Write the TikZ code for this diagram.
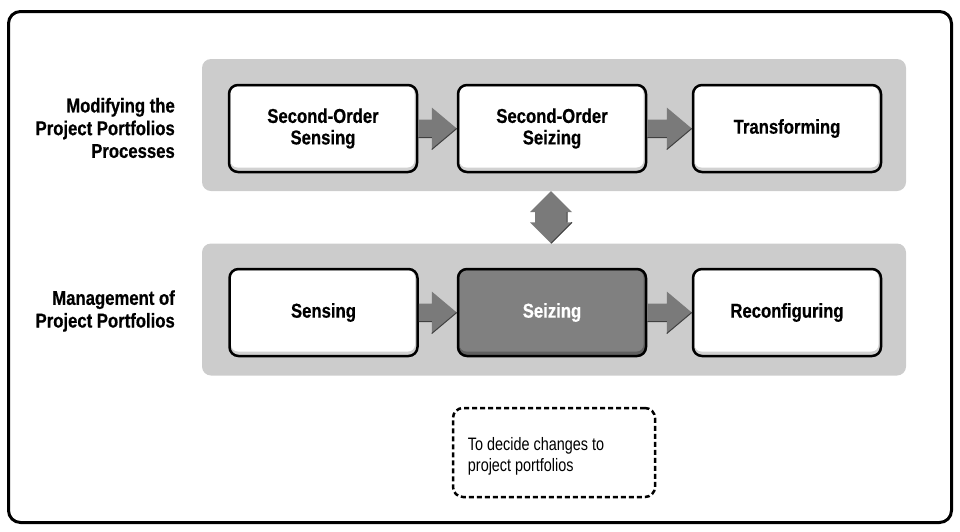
\documentclass[tikz,border=0pt]{standalone}
\usepackage{fontspec}
\setmainfont{Liberation Sans}
\newfontfamily\condB{Liberation Sans}[FakeStretch=0.835,FakeBold=0.6]
\newfontfamily\condR{Liberation Sans}[FakeStretch=0.8]
\usetikzlibrary{calc}
\definecolor{panelgray}{RGB}{204,204,204}
\definecolor{arrgray}{RGB}{122,122,122}
\definecolor{darkbox}{RGB}{128,128,128}
\newcommand\harrow[2]{%
  \fill[arrfill] ($(#1.east)+(0,-9)$) -- ($(#2.west)+(-25,-9)$) -- ($(#2.west)+(-25,-21)$) -- (#2.west) -- ($(#2.west)+(-25,21)$) -- ($(#2.west)+(-25,9)$) -- ($(#1.east)+(0,9)$) -- cycle;
  \draw[arredge] ($(#1.east)+(0,9)$) -- ($(#2.west)+(-25,9)$) ($(#2.west)+(-25,21)$) -- (#2.west);
}
\tikzset{
  panel/.style={fill=panelgray, rounded corners=9, minimum width=704, minimum height=132, inner sep=0},
  boxbase/.style={draw=black, line width=2.5, rounded corners=9, minimum width=188, minimum height=87,
    align=center, font=\condB\bfseries\fontsize{20}{21.5}\selectfont},
  stepbox/.style={boxbase, fill=gray!35,
    path picture={\fill[white, rounded corners=7] ($(path picture bounding box.north west)+(1.5,1.5)$) rectangle ($(path picture bounding box.south east)+(-2.5,-4.5)$);}},
  darkstepbox/.style={boxbase, fill=gray!75!black, text=white,
    path picture={\fill[darkbox, rounded corners=7] ($(path picture bounding box.north west)+(1.5,1.5)$) rectangle ($(path picture bounding box.south east)+(-2.5,-4.5)$);}},
  lab/.style={align=right, anchor=east, inner sep=0, font=\condB\bfseries\fontsize{20}{22.7}\selectfont},
  note/.style={draw=black, line width=2.5, dash pattern=on 5pt off 3pt, rounded corners=10, minimum width=202, minimum height=89},
  notetext/.style={align=left, anchor=west, inner sep=0, font=\condR\fontsize{18}{20.5}\selectfont},
  arrfill/.style={fill=arrgray},
  arredge/.style={draw=black!75, line width=1},
}
\begin{document}
\begin{tikzpicture}[x=1pt,y=-1pt]
\useasboundingbox (0,0) rectangle (960,531);
\draw[line width=3, rounded corners=12] (8.5,11.5) rectangle (951.5,522.5);
% panels
\node[panel] (topP) at (554,125) {};
\node[panel] (botP) at (554,309.5) {};
% labels
\node[lab] (l1) at (175,128) {Modifying the\\Project Portfolios\\Processes};
\node[lab] (l2) at (175,311) {Management of\\Project Portfolios};
% top boxes
\node[stepbox] (s1) at (323,128.5) {Second-Order\\Sensing};
\node[stepbox] (s2) at (552,128.5) {Second-Order\\Seizing};
\node[stepbox] (s3) at (787,128.5) {Transforming};
% bottom boxes
\node[stepbox] (b1) at (323.5,312.5) {Sensing};
\node[darkstepbox] (b2) at (552,312.5) {Seizing};
\node[stepbox] (b3) at (787,312.5) {Reconfiguring};
% horizontal arrows
\harrow{s1}{s2}
\harrow{s2}{s3}
\harrow{b1}{b2}
\harrow{b2}{b3}
% vertical double arrow
\coordinate (vt) at ($(topP.south -| s2)+(-1,0)$);
\coordinate (vb) at ($(botP.north -| s2)+(-1,0)$);
\fill[arrfill] (vt) -- ($(vt)+(21,21)$) -- ($(vt)+(16,21)$) -- ($(vb)+(16,-21)$) -- ($(vb)+(21,-21)$) -- (vb)
  -- ($(vb)+(-21,-21)$) -- ($(vb)+(-16,-21)$) -- ($(vt)+(-16,21)$) -- ($(vt)+(-21,21)$) -- cycle;
\draw[arredge] ($(vb)+(21,-21)$) -- (vb) ($(vt)+(16,21)$) -- ($(vb)+(16,-21)$);
% note
\node[note] (n) at (554,452.5) {};
\node[notetext] (nt) at ($(n.west)+(16,4)$) {To decide changes to\\project portfolios};
\end{tikzpicture}
\end{document}
